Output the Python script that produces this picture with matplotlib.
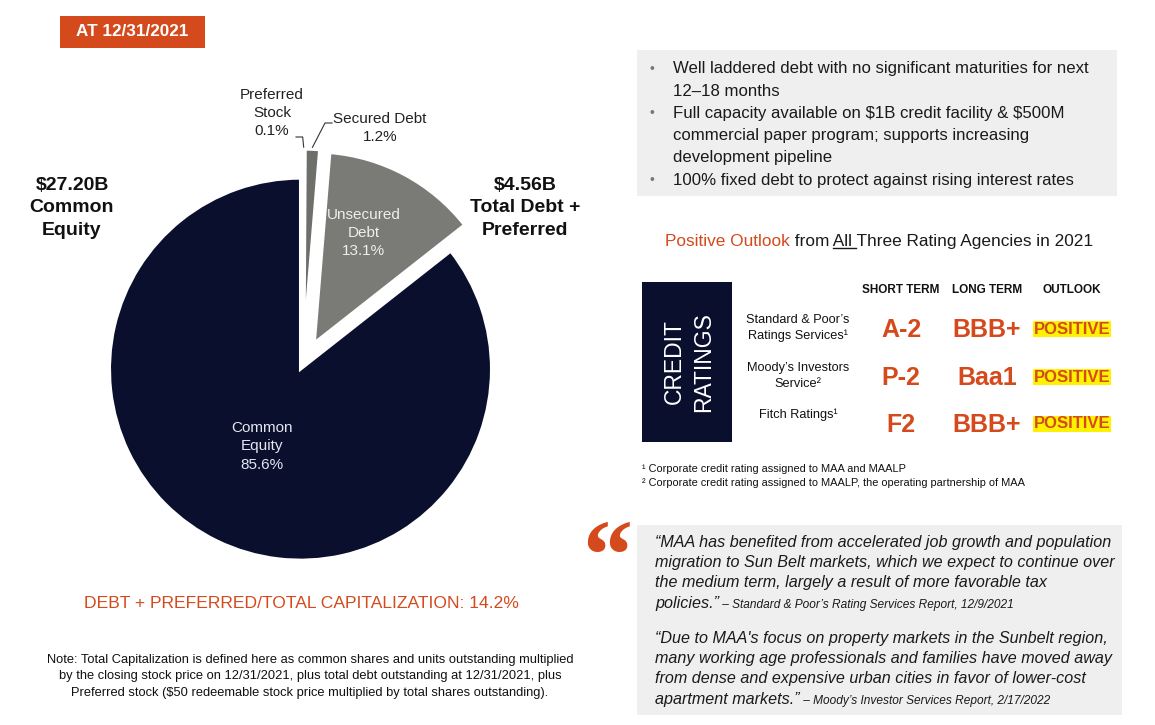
import numpy as np
import matplotlib
matplotlib.use("Agg")
from matplotlib import pyplot as plt
from matplotlib.patches import Rectangle
from matplotlib.lines import Line2D

W, H = 1155, 725
ORANGE = "#d44a1c"
NAVY = "#0b0f2e"
BOX_GRAY = "#efefef"
FONT = "Liberation Sans"

# ---- data -------------------------------------------------------------
slice_names = ["Preferred\nStock", "Secured Debt", "Unsecured\nDebt", "Common\nEquity"]
slice_pcts = [0.1, 1.2, 13.1, 85.6]
slice_colors = ["#6d6f6b", "#6d6f6b", "#7a7b77", NAVY]

equity_label = "$27.20B\nCommon\nEquity"
debt_label = "$4.56B\nTotal Debt +\nPreferred"
debt_ratio = 14.2
as_of = "AT 12/31/2021"

bullets = [
    ["Well laddered debt with no significant maturities for next", "12\u201318 months"],
    ["Full capacity available on $1B credit facility & $500M",
     "commercial paper program; supports increasing", "development pipeline"],
    ["100% fixed debt to protect against rising interest rates"],
]

rating_cols = ["SHORT TERM", "LONG TERM", "OUTLOOK"]
agencies = ["Standard & Poor\u2019s\nRatings Services\u00b9", "Moody\u2019s Investors\nService\u00b2", "Fitch Ratings\u00b9"]
short_term = ["A-2", "P-2", "F2"]
long_term = ["BBB+", "Baa1", "BBB+"]
outlook = ["POSITIVE", "POSITIVE", "POSITIVE"]

footnotes = ["\u00b9 Corporate credit rating assigned to MAA and MAALP",
             "\u00b2 Corporate credit rating assigned to MAALP, the operating partnership of MAA"]

quotes = [
    (["\u201cMAA has benefited from accelerated job growth and population",
      "migration to Sun Belt markets, which we expect to continue over",
      "the medium term, largely a result of more favorable tax",
      "policies.\u201d"], " \u2013 Standard & Poor\u2019s Rating Services Report, 12/9/2021"),
    (["\u201cDue to MAA's focus on property markets in the Sunbelt region,",
      "many working age professionals and families have moved away",
      "from dense and expensive urban cities in favor of lower-cost",
      "apartment markets.\u201d"], " \u2013 Moody\u2019s Investor Services Report, 2/17/2022"),
]

note_lines = ["Note: Total Capitalization is defined here as common shares and units outstanding multiplied",
              "by the closing stock price on 12/31/2021, plus total debt outstanding at 12/31/2021, plus",
              "Preferred stock ($50 redeemable stock price multiplied by total shares outstanding)."]

# ---- helpers ----------------------------------------------------------
plt.rcParams["font.family"] = [FONT, "DejaVu Sans"]
plt.rcParams["text.parse_math"] = False
fig = plt.figure(figsize=(W / 100, H / 100), dpi=100)
fig.patch.set_facecolor("white")


def txt(x, y, s, **kw):
    kw.setdefault("va", "center")
    return fig.text(x / W, 1 - y / H, s, **kw)


def rect(x, y, w, h, color):
    fig.add_artist(Rectangle((x / W, 1 - (y + h) / H), w / W, h / H,
                             transform=fig.transFigure, facecolor=color,
                             edgecolor="none", zorder=0))


def run(x, y, parts, **common):
    # consecutive text pieces on one baseline
    r = fig.canvas.get_renderer()
    out = []
    for s, kw in parts:
        t = txt(x, y, s, va="baseline", **{**common, **kw})
        bb = t.get_window_extent(r)
        x = bb.x1
        out.append((t, bb))
    return out


def line_px(pts, **kw):
    xs = [p[0] / W for p in pts]
    ys = [1 - p[1] / H for p in pts]
    fig.add_artist(Line2D(xs, ys, transform=fig.transFigure, **kw))


# ---- left: header box -------------------------------------------------
rect(60, 16, 145, 32, ORANGE)
txt(132, 32, as_of, ha="center", color="white", fontsize=12.3, fontweight="bold")

# ---- pie --------------------------------------------------------------
cx, cy, R, half = 303, 364, 191, 235
ax = fig.add_axes([(cx - half) / W, 1 - (cy + half) / H, 2 * half / W, 2 * half / H])
wedges, _ = ax.pie(slice_pcts, explode=[0.125, 0.125, 0.125, 0.03], startangle=90,
                   counterclock=False, colors=slice_colors, radius=1,
                   wedgeprops=dict(edgecolor="white", linewidth=2.2))
lim = half / R
ax.set_xlim(-lim, lim)
ax.set_ylim(-lim, lim)
ax.set_aspect("equal")
ax.axis("off")


def wedge_point(w, frac):
    a = np.deg2rad((w.theta1 + w.theta2) / 2)
    return w.center[0] + frac * np.cos(a), w.center[1] + frac * np.sin(a)


for i, frac, off, col in [(2, 0.62, (-7, 6), "#eeeeee"), (3, 0.45, (-1, 0), "#e4e7f0")]:
    ax.annotate(f"{slice_names[i]}\n{slice_pcts[i]}%", xy=wedge_point(wedges[i], frac),
                xytext=off, textcoords="offset pixels", ha="center", va="center",
                color=col, fontsize=11, linespacing=1.37)

# outside labels for the two thin slices
txt(272, 113, f"{slice_names[0]}\n{slice_pcts[0]}%", ha="center", fontsize=11,
    color="#222222", linespacing=1.37)
txt(380, 128, f"{slice_names[1]}\n{slice_pcts[1]}%", ha="center", fontsize=11,
    color="#222222", linespacing=1.37)
tips = []
for i in (0, 1):
    d = ax.transData.transform(wedge_point(wedges[i], 1.0))
    tips.append((d[0], H - d[1]))
line_px([(296, 137), (tips[0][0] - 1, 137), (tips[0][0], tips[0][1] - 2)], color="#333333", lw=0.8)
line_px([(332, 123), (325, 123), (tips[1][0], tips[1][1] - 2)], color="#333333", lw=0.8)

txt(72, 208, equity_label, ha="center", fontsize=14, fontweight="bold", linespacing=1.45, color="#111111")
txt(525, 208, debt_label, ha="center", fontsize=14, fontweight="bold", linespacing=1.45, color="#111111")

txt(301, 603, f"DEBT + PREFERRED/TOTAL CAPITALIZATION: {debt_ratio}%", ha="center",
    color=ORANGE, fontsize=12.6)
for k, s in enumerate(note_lines):
    txt(310, 660 + k * 16.5, s, ha="center", fontsize=9.3, color="#111111")

# ---- right: bullets ---------------------------------------------------
rect(637, 50, 480, 146, BOX_GRAY)
yy = 69
for b in bullets:
    txt(652, yy, "\u2022", ha="center", fontsize=10, color="#777777")
    for s in b:
        txt(673, yy, s, fontsize=12.1, color="#1a1a1a")
        yy += 22.2

parts = run(665, 246, [("Positive Outlook", dict(color=ORANGE)),
                       (" from", dict(color="#1a1a1a")),
                       (" All", dict(color="#1a1a1a")),
                       (" Three Rating Agencies in 2021", dict(color="#1a1a1a"))],
            fontsize=12.4)
ball = parts[2][1]
line_px([(ball.x0 + 3.5, 248.5), (ball.x1 + 4, 248.5)], color="#1a1a1a", lw=1.0)

# ---- ratings table ----------------------------------------------------
rect(642, 282, 90, 160, NAVY)
txt(689, 362, "CREDIT\nRATINGS", ha="center", rotation=90, color="white",
    fontsize=16.5, linespacing=1.36, multialignment="center")

col_x = [901, 987, 1072]
for x, s in zip(col_x, rating_cols):
    txt(x, 290, s, ha="center", fontsize=8.5, fontweight="bold", color="#111111")

row_y = [330, 378, 425]
agency_y = [328, 376, 415]
for k in range(3):
    txt(798, agency_y[k], agencies[k], ha="center", fontsize=9.2, color="#111111",
        linespacing=1.42, multialignment="center")
    txt(col_x[0], row_y[k], short_term[k], ha="center", fontsize=18, fontweight="bold", color=ORANGE)
    txt(col_x[1], row_y[k], long_term[k], ha="center", fontsize=18, fontweight="bold", color=ORANGE)
    txt(col_x[2], row_y[k] - 1, outlook[k], ha="center", fontsize=12, fontweight="bold", color=ORANGE,
        bbox=dict(facecolor="#fff200", edgecolor="none", pad=0.6))

for k, s in enumerate(footnotes):
    txt(642, 469 + k * 14.5, s, fontsize=7.9, color="#111111")

# ---- quotes -----------------------------------------------------------
txt(607, 564, "\u201c", ha="center", va="center", fontsize=72, fontweight="bold",
    family="Liberation Serif", color=ORANGE)
rect(637, 525, 485, 190, BOX_GRAY)
ystarts = [547, 643]
for (lines, src), y0 in zip(quotes, ystarts):
    for k, s in enumerate(lines):
        if k < len(lines) - 1:
            txt(655, y0 + k * 20.2, s, va="baseline", fontsize=11.6, style="italic", color="#1a1a1a")
        else:
            run(655, y0 + k * 20.2, [(s, dict(fontsize=11.6)), (src, dict(fontsize=8.6))],
                style="italic", color="#1a1a1a")

fig.savefig("out.png", dpi=100)
